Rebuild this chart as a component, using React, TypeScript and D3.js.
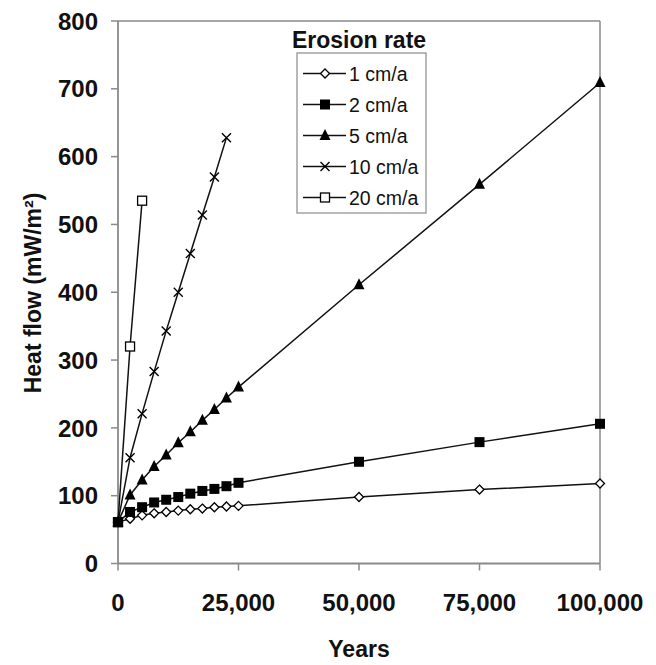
import React from "react";
import * as d3 from "d3";

const yearsFine = [0, 2500, 5000, 7500, 10000, 12500, 15000, 17500, 20000, 22500, 25000, 50000, 75000, 100000];
const rate1 = [61, 66, 71, 74, 76, 78, 80, 81, 83, 84, 85, 98, 109, 118];
const rate2 = [61, 76, 83, 90, 94, 98, 103, 107, 110, 114, 119, 150, 179, 206];
const rate5 = [61, 101, 123, 143, 160, 178, 194, 211, 227, 244, 260, 411, 559, 709];
const years10 = [0, 2500, 5000, 7500, 10000, 12500, 15000, 17500, 20000, 22500];
const rate10 = [61, 156, 221, 283, 343, 400, 457, 514, 570, 628];
const years20 = [0, 2500, 5000];
const rate20 = [61, 320, 535];

const seriesNames = ["1 cm/a", "2 cm/a", "5 cm/a", "10 cm/a", "20 cm/a"];
const markerTypes = ["diamond", "square", "triangle", "cross", "hollowSquare"];
const xTicks = [0, 25000, 50000, 75000, 100000];
const yTicks = [0, 100, 200, 300, 400, 500, 600, 700, 800];

const series = [
  { name: seriesNames[0], marker: markerTypes[0], xs: yearsFine, ys: rate1 },
  { name: seriesNames[1], marker: markerTypes[1], xs: yearsFine, ys: rate2 },
  { name: seriesNames[2], marker: markerTypes[2], xs: yearsFine, ys: rate5 },
  { name: seriesNames[3], marker: markerTypes[3], xs: years10, ys: rate10 },
  { name: seriesNames[4], marker: markerTypes[4], xs: years20, ys: rate20 },
];
// draw order so the filled square ends on top at the shared origin
const drawOrder = [4, 3, 2, 0, 1];

function Marker({ type, x, y }: { type: string; x: number; y: number }) {
  if (type === "diamond") {
    const r = 4.5;
    return <path d={`M${x},${y - r}L${x + r},${y}L${x},${y + r}L${x - r},${y}Z`} fill="#fff" stroke="#000" strokeWidth={1.3} />;
  }
  if (type === "square") {
    const s = 10;
    return <rect x={x - s / 2} y={y - s / 2} width={s} height={s} fill="#000" />;
  }
  if (type === "triangle") {
    const h = 11, w = 11;
    return <path d={`M${x},${y - h * 0.6}L${x + w / 2},${y + h * 0.4}L${x - w / 2},${y + h * 0.4}Z`} fill="#000" />;
  }
  if (type === "cross") {
    const r = 4.5;
    return <path d={`M${x - r},${y - r}L${x + r},${y + r}M${x - r},${y + r}L${x + r},${y - r}`} stroke="#000" strokeWidth={1.4} />;
  }
  const s = 9;
  return <rect x={x - s / 2} y={y - s / 2} width={s} height={s} fill="#fff" stroke="#000" strokeWidth={1.3} />;
}

export default function App() {
  const W = 656, H = 665;
  const left = 118, right = 600, top = 21, bottom = 563.5;
  const x = d3.scaleLinear().domain([0, 100000]).range([left, right]);
  const y = d3.scaleLinear().domain([0, 800]).range([bottom, top]);
  const fmt = d3.format(",");
  const line = d3.line<[number, number]>().x((d) => x(d[0])).y((d) => y(d[1]));
  const font = "'Liberation Sans', Arial, sans-serif";
  const axisColor = "#8a8a8a";

  const legX = 297, legY = 53, legW = 129, legH = 160;
  const legRow = 31;

  return (
    <svg width={W} height={H} style={{ position: "absolute", left: 0, top: 0, background: "#fff" }} fontFamily={font}>
      {/* frame */}
      <line x1={left} x2={right} y1={top} y2={top} stroke={axisColor} strokeWidth={1.5} />
      <line x1={right} x2={right} y1={top} y2={bottom} stroke={axisColor} strokeWidth={1.5} />
      <line x1={left} x2={left} y1={top} y2={bottom} stroke={axisColor} strokeWidth={1.8} />
      <line x1={left} x2={right} y1={bottom} y2={bottom} stroke={axisColor} strokeWidth={1.8} />
      {yTicks.map((t) => (
        <g key={"y" + t}>
          <line x1={left - 7} x2={left} y1={y(t)} y2={y(t)} stroke={axisColor} strokeWidth={1.5} />
          <text x={98} y={y(t)} dy="0.36em" textAnchor="end" fontSize={24} fontWeight="bold" fill="#111">{t}</text>
        </g>
      ))}
      {xTicks.map((t) => (
        <g key={"x" + t}>
          <line x1={x(t)} x2={x(t)} y1={bottom} y2={bottom + 7} stroke={axisColor} strokeWidth={1.5} />
          <text x={x(t)} y={602.5} dy="0.36em" textAnchor="middle" fontSize={24} fontWeight="bold" fill="#111">{fmt(t)}</text>
        </g>
      ))}
      <text x={359} y={657} textAnchor="middle" fontSize={23} fontWeight="bold" fill="#111">Years</text>
      <text transform={`translate(33,${293}) rotate(-90)`} dy="0.36em" textAnchor="middle" fontSize={23} fontWeight="bold" fill="#111">
        Heat flow (mW/m²)
      </text>

      {/* series */}
      {drawOrder.map((idx) => {
        const s = series[idx];
        const pts: [number, number][] = s.xs.map((v, i) => [v, s.ys[i]]);
        return (
          <g key={s.name}>
            <path d={line(pts) || ""} fill="none" stroke="#111" strokeWidth={1.5} />
            {pts.map((p, i) => (
              <Marker key={i} type={s.marker} x={x(p[0])} y={y(p[1])} />
            ))}
          </g>
        );
      })}

      {/* legend */}
      <text x={359} y={40} dy="0.36em" textAnchor="middle" fontSize={23} fontWeight="bold" fill="#111">Erosion rate</text>
      <rect x={legX} y={legY} width={legW} height={legH} fill="#fff" stroke={axisColor} strokeWidth={1.2} />
      {series.map((s, i) => {
        const cy = legY + 20.5 + i * legRow;
        return (
          <g key={"leg" + s.name}>
            <line x1={303} x2={346} y1={cy} y2={cy} stroke="#111" strokeWidth={1.5} />
            <Marker type={s.marker} x={325} y={cy} />
            <text x={349} y={cy} dy="0.36em" fontSize={19.5} fill="#111">{s.name}</text>
          </g>
        );
      })}
    </svg>
  );
}
